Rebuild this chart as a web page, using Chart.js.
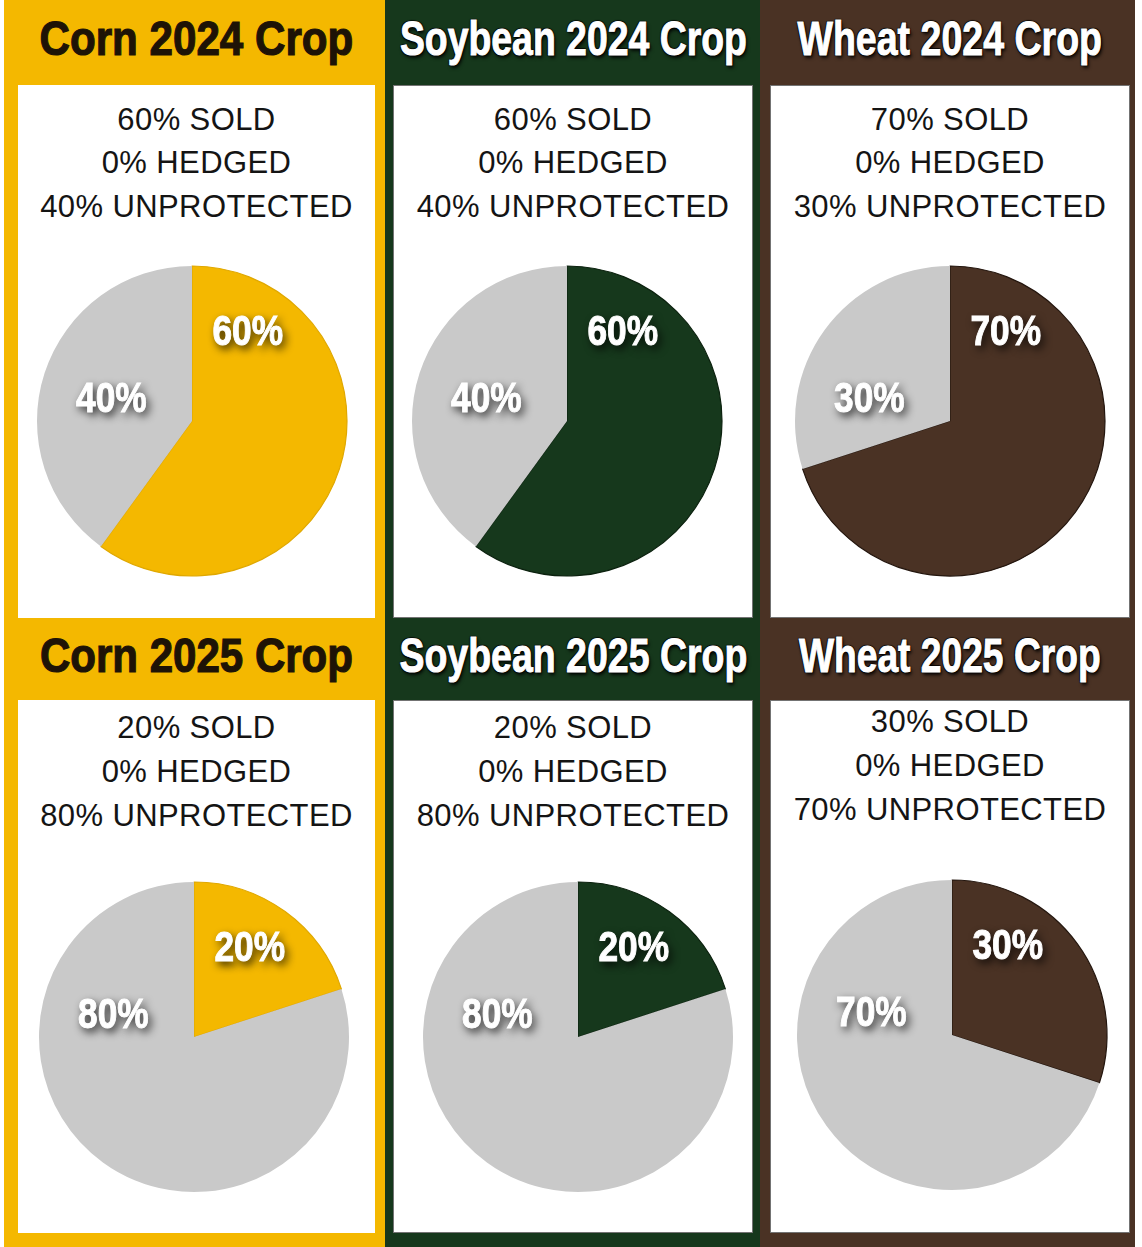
<!DOCTYPE html>
<html>
<head>
<meta charset="utf-8">
<script src="https://cdn.jsdelivr.net/npm/chart.js@4.4.1/dist/chart.umd.min.js"></script>
<style>
  html, body { margin: 0; padding: 0; background: #fff; }
  #board { position: relative; width: 1142px; height: 1247px; overflow: hidden; }
  .column { position: absolute; top: 0; height: 1247px; }
  .panel { position: absolute; background: #fff; box-sizing: border-box; }
  .header {
    position: absolute; white-space: nowrap;
    font-family: "Liberation Sans", Arial, sans-serif;
    font-weight: bold; font-size: 49px; line-height: 60px;
    transform-origin: 50% 50%;
    -webkit-text-stroke: 1.2px #1e1306;
  }
  .header.light {
    color: #fff;
    -webkit-text-stroke: 1px #fff;
    text-shadow: -1px -1px 1px #000, 1px -1px 1px #000, -1px 1px 1px #000, 1px 1px 1px #000,
                 2px 3px 4px rgba(0,0,0,0.85);
  }
  .line {
    position: absolute; text-align: center; white-space: nowrap;
    font-family: "Liberation Sans", Arial, sans-serif;
    font-size: 31px; line-height: 30px; letter-spacing: 0.4px; color: #141414;
  }
  .pie { position: absolute; width: 340px; height: 340px; }
</style>
</head>
<body>
<div id="board"></div>
<script>
// crop marketing position, percent of expected crop
const crops = ['Corn', 'Soybean', 'Wheat'];
const cropYears = ['2024', '2025'];
const sold2024 = [60, 60, 70];
const hedged2024 = [0, 0, 0];
const unprotected2024 = [40, 40, 30];
const sold2025 = [20, 20, 30];
const hedged2025 = [0, 0, 0];
const unprotected2025 = [80, 80, 70];

const cropColors = ['#f4b800', '#16381c', '#4a3224'];
const cropEdges = ['#e0a800', '#0c220f', '#24160e'];
const headerText = ['#1e1306', '#fff', '#fff'];
const grey = '#c9c9c9';

// page layout
const columnX = [4, 385, 760];
const columnW = [381, 375, 375];
const panelX = [18, 393, 770];
const panelW = [357, 360, 360];
const panelTop = [85, 700];
const panelBottom = [618, 1233];
const headerMid = [38, 655];
const headerWidth = [[314, 347, 305], [313, 348, 302]];
const lineTops = [[120, 163, 207], [728, 772, 816]];
const pieCenters = [
  [[192, 421], [567, 421], [950, 421]],
  [[194, 1037], [578, 1037], [952, 1035]]
];
const pieRadius = 155;

const rows = [
  { sold: sold2024, hedged: hedged2024, unprotected: unprotected2024 },
  { sold: sold2025, hedged: hedged2025, unprotected: unprotected2025 }
];

const board = document.getElementById('board');

function addDiv(cls, style, text) {
  const d = document.createElement('div');
  d.className = cls;
  Object.assign(d.style, style);
  if (text !== undefined) d.textContent = text;
  board.appendChild(d);
  return d;
}

// white percent labels, narrowed, with a soft drop shadow
const sliceLabels = {
  id: 'sliceLabels',
  afterDatasetsDraw(chart) {
    const arcs = chart.getDatasetMeta(0).data;
    const values = chart.data.datasets[0].data;
    const ctx = chart.ctx;
    const a = arcs[0];
    const r = a.outerRadius;
    const spots = [[0.36, -0.59], null, [-0.52, -0.16]];
    const squeeze = 0.84;
    ctx.save();
    ctx.font = 'bold 42px "Liberation Sans", Arial, sans-serif';
    ctx.textAlign = 'center';
    ctx.textBaseline = 'middle';
    ctx.fillStyle = '#fff';
    ctx.strokeStyle = '#fff';
    ctx.lineWidth = 1;
    values.forEach((v, i) => {
      if (!spots[i] || v <= 0) return;
      const x = a.x + spots[i][0] * r;
      const y = a.y + spots[i][1] * r + 4;
      ctx.save();
      ctx.translate(x, y);
      ctx.scale(squeeze, 1);
      ctx.shadowColor = 'rgba(0,0,0,0.9)';
      ctx.shadowBlur = 8;
      ctx.shadowOffsetX = 3;
      ctx.shadowOffsetY = 4;
      ctx.fillText(v + '%', 0, 0);
      ctx.shadowColor = 'transparent';
      ctx.strokeText(v + '%', 0, 0);
      ctx.restore();
    });
    ctx.restore();
  }
};

crops.forEach((crop, c) => {
  addDiv('column', { left: columnX[c] + 'px', width: columnW[c] + 'px', background: cropColors[c] });

  rows.forEach((row, y) => {
    const isLight = c > 0;
    addDiv('panel', {
      left: panelX[c] + 'px', width: panelW[c] + 'px',
      top: panelTop[y] + 'px', height: (panelBottom[y] - panelTop[y]) + 'px',
      border: isLight ? '1.5px solid rgba(0,0,0,0.55)' : 'none'
    });

    const mid = panelX[c] + panelW[c] / 2;
    const head = addDiv('header' + (isLight ? ' light' : ''), {
      top: (headerMid[y] - 30) + 'px', color: headerText[c]
    }, crop + ' ' + cropYears[y] + ' Crop');
    // condense the title to its box width
    const w = head.offsetWidth;
    head.style.left = (mid - w / 2) + 'px';
    head.style.transform = 'scaleX(' + (headerWidth[y][c] / w).toFixed(3) + ')';

    const lines = [
      row.sold[c] + '% SOLD',
      row.hedged[c] + '% HEDGED',
      row.unprotected[c] + '% UNPROTECTED'
    ];
    const shift = (c === 2 && y === 1) ? -6 : 0;
    lines.forEach((t, k) => {
      addDiv('line', {
        left: (mid - 200) + 'px', width: '400px',
        top: (lineTops[y][k] - 15 + shift) + 'px'
      }, t);
    });

    const [cx, cy] = pieCenters[y][c];
    const wrap = addDiv('pie', { left: (cx - 170) + 'px', top: (cy - 170) + 'px' });
    const canvas = document.createElement('canvas');
    wrap.appendChild(canvas);

    new Chart(canvas, {
      type: 'pie',
      data: {
        labels: ['Sold', 'Hedged', 'Unprotected'],
        datasets: [{
          data: [row.sold[c], row.hedged[c], row.unprotected[c]],
          backgroundColor: [cropColors[c], '#888', grey],
          borderColor: [cropEdges[c], '#888', grey],
          borderWidth: [1.2, 0, 0]
        }]
      },
      options: {
        responsive: true,
        maintainAspectRatio: false,
        animation: false,
        events: [],
        radius: pieRadius,
        layout: { padding: 0 },
        plugins: {
          legend: { display: false },
          tooltip: { enabled: false }
        }
      },
      plugins: [sliceLabels]
    });
  });
});
</script>
</body>
</html>
